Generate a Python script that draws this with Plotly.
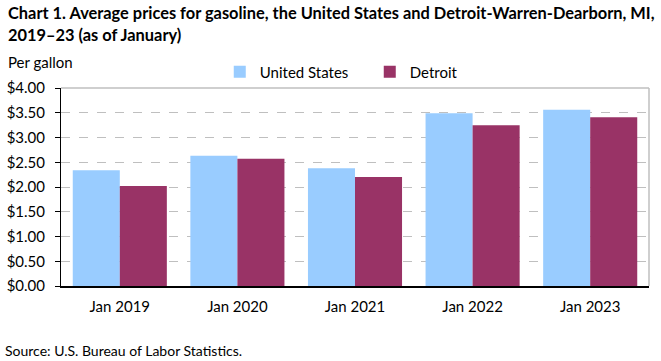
import plotly.graph_objects as go

categories = ["Jan 2019", "Jan 2020", "Jan 2021", "Jan 2022", "Jan 2023"]
us_values = [2.34, 2.63, 2.38, 3.49, 3.56]
detroit_values = [2.02, 2.57, 2.20, 3.25, 3.41]
y_ticks = [0, 0.5, 1, 1.5, 2, 2.5, 3, 3.5, 4]
y_ticklabels = ["$%.2f" % v for v in y_ticks]
title_lines = ["Chart 1. Average prices for gasoline, the United States and Detroit-Warren-Dearborn, MI,",
               "2019–23 (as of January)"]

FONT = "Lato"

fig = go.Figure()
fig.add_trace(go.Bar(name="United States", x=categories, y=us_values,
                     marker=dict(color="#99CCFF", line=dict(width=0))))
fig.add_trace(go.Bar(name="Detroit", x=categories, y=detroit_values,
                     marker=dict(color="#993366", line=dict(width=0))))

fig.update_layout(
    width=661, height=361,
    barmode="group", bargap=0.2, bargroupgap=0,
    paper_bgcolor="white", plot_bgcolor="white",
    margin=dict(l=61, r=12, t=88, b=75),
    font=dict(family=FONT, size=15, color="#000000"),
    legend=dict(orientation="h", x=0.27, xanchor="left", y=1.081, yanchor="middle",
                font=dict(family=FONT, size=15), entrywidth=105, entrywidthmode="pixels",
                traceorder="normal", bgcolor="rgba(0,0,0,0)"),
    xaxis=dict(showline=True, linecolor="#000000", linewidth=2, ticks="",
               tickfont=dict(family=FONT, size=15), showgrid=False, ticklabelstandoff=6,
               automargin=False),
    yaxis=dict(range=[0, 4], tickvals=y_ticks, ticktext=y_ticklabels,
               showline=True, linecolor="#000000", linewidth=1,
               ticks="outside", ticklen=5, tickcolor="#000000",
               showgrid=True, gridcolor="#BFBFBF", griddash="dash", gridwidth=1,
               tickfont=dict(family=FONT, size=15), zeroline=False, ticklabelstandoff=7,
               automargin=False),
    showlegend=True,
)

fig.add_shape(type="line", xref="paper", yref="paper", x0=0, x1=1, y0=1, y1=1,
              line=dict(color="#BFBFBF", width=1.5))
fig.add_shape(type="line", xref="paper", yref="paper", x0=1, x1=1, y0=0, y1=1,
              line=dict(color="#BFBFBF", width=1.5))

fig.add_annotation(text="<b>%s</b>" % title_lines[0], xref="paper", yref="paper",
                   x=-0.094, y=1.379, xanchor="left", yanchor="middle", showarrow=False,
                   font=dict(family=FONT, size=16.4))
fig.add_annotation(text="<b>%s</b>" % title_lines[1], xref="paper", yref="paper",
                   x=-0.094, y=1.268, xanchor="left", yanchor="middle", showarrow=False,
                   font=dict(family=FONT, size=16.4))
fig.add_annotation(text="Per gallon", xref="paper", yref="paper", x=-0.094, y=1.131,
                   xanchor="left", yanchor="middle", showarrow=False,
                   font=dict(family=FONT, size=15))
fig.add_annotation(text="Source: U.S. Bureau of Labor Statistics.", xref="paper", yref="paper",
                   x=-0.099, y=-0.328, xanchor="left", yanchor="middle", showarrow=False,
                   font=dict(family=FONT, size=14))

fig.write_html("out.html", config={"displayModeBar": False},
               post_script="document.body.style.margin='0';document.body.style.overflow='hidden';")
